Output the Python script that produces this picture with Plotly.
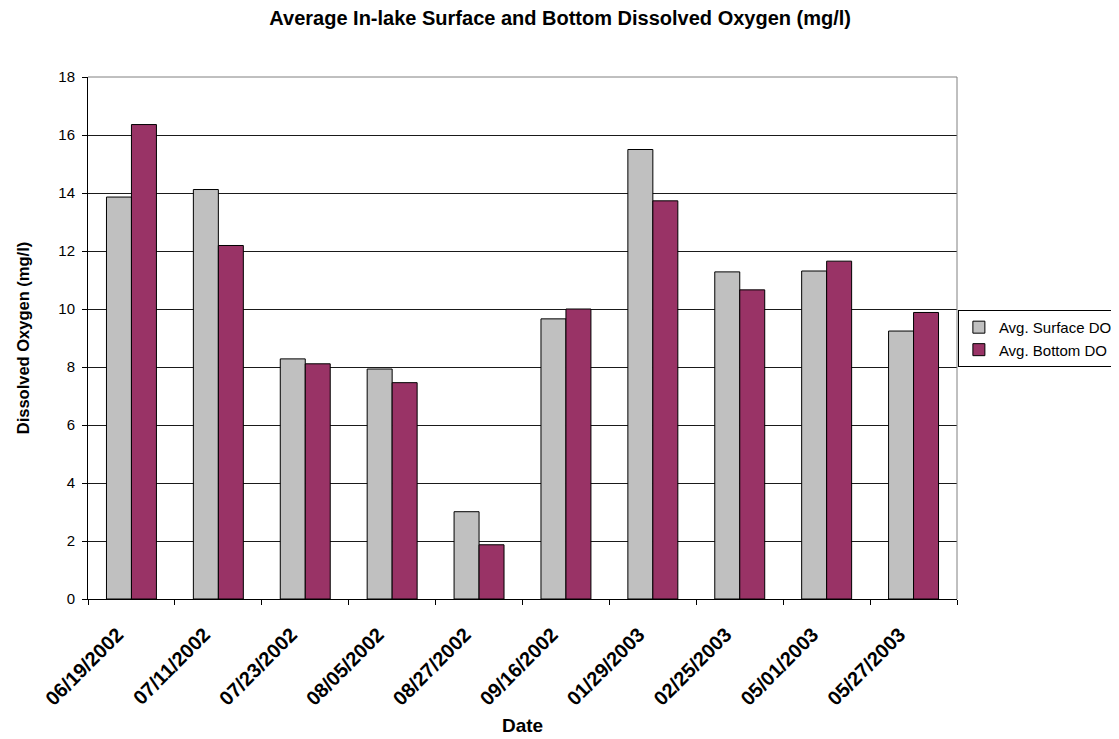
import plotly.graph_objects as go

dates = ['06/19/2002', '07/11/2002', '07/23/2002', '08/05/2002', '08/27/2002',
         '09/16/2002', '01/29/2003', '02/25/2003', '05/01/2003', '05/27/2003']
surface_do = [13.86, 14.12, 8.28, 7.93, 3.01, 9.66, 15.50, 11.28, 11.31, 9.24]
bottom_do = [16.36, 12.19, 8.11, 7.46, 1.87, 10.00, 13.73, 10.66, 11.65, 9.88]

font_name = 'Liberation Sans, Arial, sans-serif'

fig = go.Figure()
fig.add_trace(go.Bar(x=dates, y=surface_do, name='Avg. Surface DO',
                     marker=dict(color='#C0C0C0', line=dict(color='#000000', width=1))))
fig.add_trace(go.Bar(x=dates, y=bottom_do, name='Avg. Bottom DO',
                     marker=dict(color='#993366', line=dict(color='#000000', width=1))))

# the page body adds an 8px margin, so the figure is sized 8px smaller
fig.update_layout(
    width=1111, height=731,
    margin=dict(l=80, r=162, t=69, b=140, autoexpand=False),
    paper_bgcolor='white', plot_bgcolor='white',
    font=dict(family=font_name, size=15, color='#000000'),
    title=dict(text='<b>Average In-lake Surface and Bottom Dissolved Oxygen (mg/l)</b>',
               xref='container', x=0.497, xanchor='center', y=0.986, yanchor='middle',
               font=dict(size=20)),
    barmode='group', bargap=0.425, bargroupgap=0,
    legend=dict(xref='container', yref='container', x=0.999, y=0.548,
                xanchor='right', yanchor='middle',
                bordercolor='#000000', borderwidth=1,
                font=dict(size=15), itemwidth=30, tracegroupgap=0),
    showlegend=True,
)

fig.update_yaxes(
    range=[0, 18], dtick=2, tick0=0,
    showgrid=True, gridcolor='#1a1a1a', gridwidth=1,
    showline=True, linecolor='#000000', linewidth=1,
    ticks='outside', ticklen=5, tickcolor='#000000',
    tickfont=dict(size=15), ticklabelstandoff=4,
    zeroline=False, automargin=False,
    title=dict(text='<b>Dissolved Oxygen (mg/l)</b>', font=dict(size=16.5), standoff=24),
)
fig.update_xaxes(
    type='category', tickangle=-45,
    showline=True, linecolor='#000000', linewidth=1,
    ticks='outside', ticklen=5, tickcolor='#000000', tickson='boundaries',
    tickfont=dict(size=20, family=font_name, weight='bold'),
    ticklabelshift=-14, ticklabelstandoff=15,
    automargin=False,
    title=dict(text='<b>Date</b>', font=dict(size=19), standoff=10),
)

# grey plot-area frame on the top and right, like the original
fig.add_shape(type='line', xref='paper', yref='paper', x0=0, x1=1, y0=1, y1=1,
              line=dict(color='#808080', width=1))
fig.add_shape(type='line', xref='paper', yref='paper', x0=1, x1=1, y0=0, y1=1,
              line=dict(color='#808080', width=1))

fig.write_html('out.html')
